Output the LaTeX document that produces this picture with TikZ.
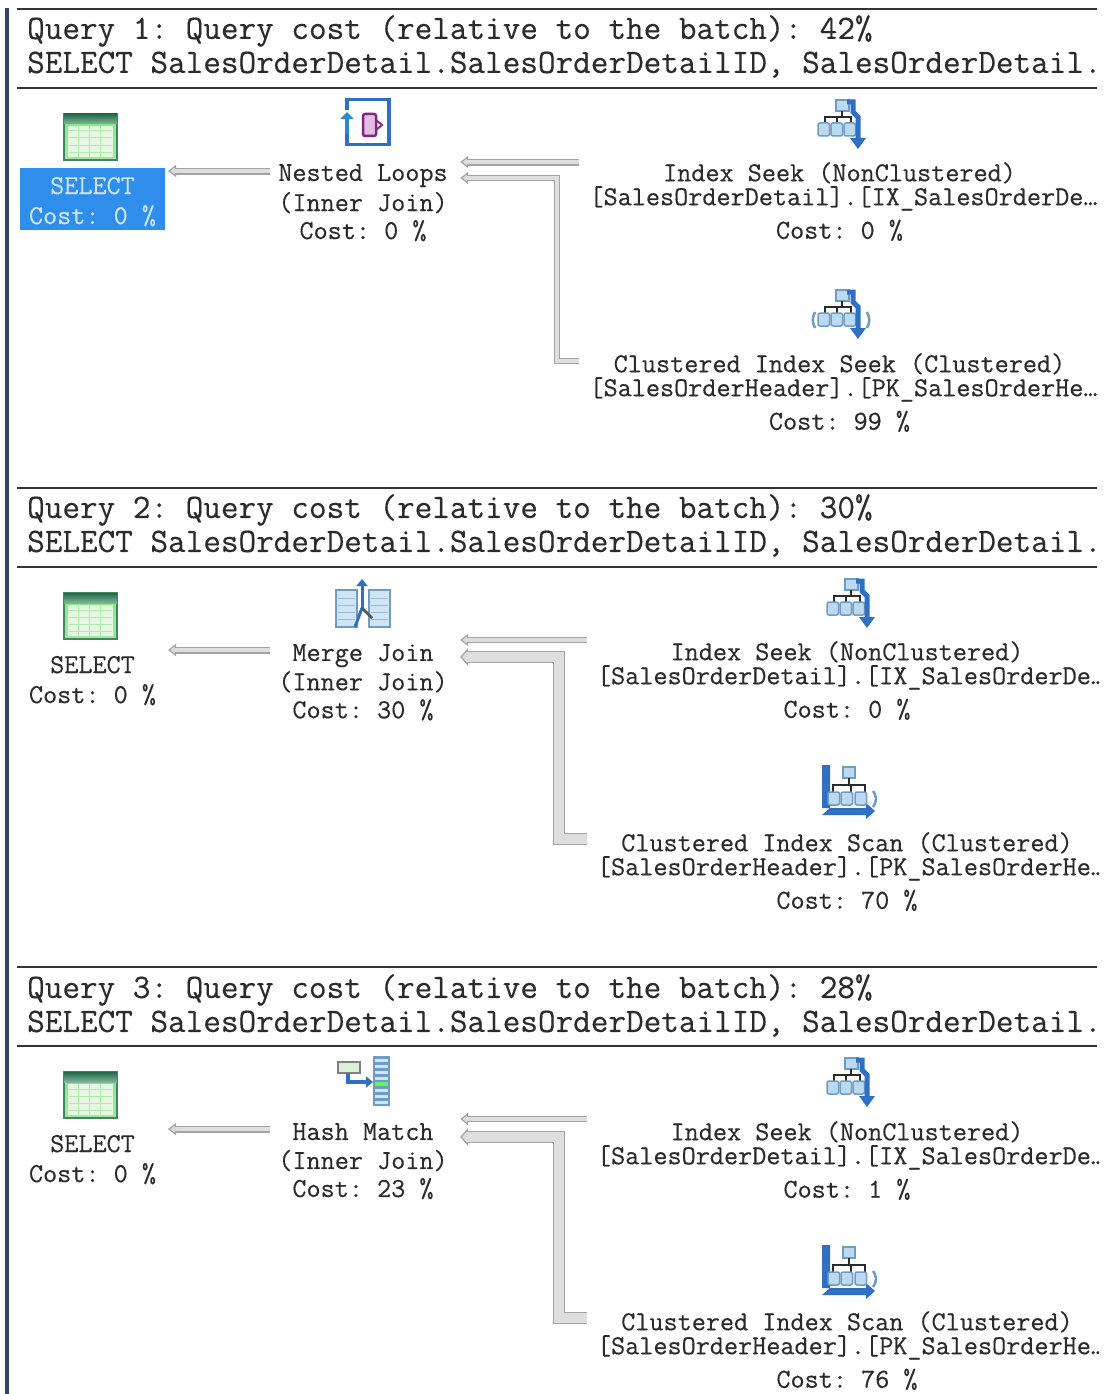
\documentclass[tikz,border=0pt]{standalone}
\usepackage{fontspec}
\newfontfamily\monof[FakeBold=0.35]{Latin Modern Mono}
\usetikzlibrary{arrows.meta}
\definecolor{ink}{HTML}{2B2B2B}
\definecolor{rulec}{HTML}{333333}
\definecolor{barc}{HTML}{34426F}
\definecolor{hilite}{HTML}{2F8DEB}
\definecolor{hitext}{HTML}{CDE6FA}
\definecolor{edgec}{HTML}{A3A3A3}
\definecolor{fillc}{HTML}{DEDEDE}
\definecolor{bluei}{HTML}{2F6FC4}
\definecolor{lightb}{HTML}{BBD9EF}
\definecolor{edgeb}{HTML}{6F9CC4}
\definecolor{greenl}{HTML}{C3E8BC}
\definecolor{greend}{HTML}{2C8459}
\newcommand{\nudge}{\hspace*{8pt}}
\newcommand{\cyl}[2]{\draw[edgeb,fill=lightb,line width=1.5pt,rounded corners=2pt] (#1,#2) rectangle ++(11.5,13);}
\tikzset{
  x=1pt,y=-1pt,
  rulel/.style={draw=rulec,line width=2pt},
  headtext/.style={anchor=north west,inner sep=0pt,align=left,text=ink,font=\monof\frenchspacing\fontsize{34.2}{34}\selectfont},
  seltext/.style={anchor=north,inner ysep=0pt,inner xsep=0pt,minimum width=145pt,outer sep=3pt,align=center,text=ink,font=\monof\frenchspacing\fontsize{27.4}{30}\selectfont},
  jointext/.style={anchor=north,inner ysep=0pt,inner xsep=0pt,minimum width=186pt,align=center,text=ink,font=\monof\frenchspacing\fontsize{27.4}{24}\selectfont},
  seektext/.style={anchor=north,inner ysep=0pt,inner xsep=10pt,align=center,text=ink,font=\monof\frenchspacing\fontsize{27.4}{24}\selectfont},
  pipe/.style n args={3}{line width=#1,draw=edgec,shorten >=#3,
    -{Triangle[length=8pt,width=#2,fill=fillc,line width'=1.2pt]},
    postaction={draw=fillc,line width=#1-2.4pt,arrows=-,shorten >=#3+7pt}},
  pics/tableicon/.style={code={
    \draw[draw=greend!70!gray,top color=greenl!60!green,bottom color=greenl!80!green,line width=1.5pt] (0,0) rectangle (53,46);
    \fill[greenl!40!white] (4,12) rectangle (49,43);
    \fill[top color=greend!80!black,bottom color=greend!60!white,draw=none] (0,0) rectangle (53,10);
    \foreach \yy in {17,24,31,38} \draw[greenl!90!green,line width=1pt] (5,\yy) -- (48,\yy);
    \foreach \xx in {14,25,36} \draw[greenl!90!green,line width=1pt] (\xx,12) -- (\xx,44);
  }},
  pics/loopicon/.style={code={
    \draw[bluei,line width=3.5pt] (6,12) -- (6,1.5) -- (48,1.5) -- (48,46.5) -- (6,46.5) -- (6,36);
    \draw[bluei!80!cyan,line width=3.5pt,-{Triangle[length=7pt,width=13pt]}] (6,36) -- (6,14);
    \draw[violet!70!gray,fill=violet!25,line width=2.5pt,rounded corners=2pt] (22,16) rectangle (35,38);
    \draw[violet!60!gray,line width=2pt] (35,22) -- (41,27) -- (35,32);
  }},
  pics/seekicon/.style={code={
    \draw[edgeb,fill=lightb,line width=1.5pt] (19,2) rectangle (32,13);
    \draw[ink,line width=1.2pt] (25,13) -- (25,19) (8,25) -- (8,19) -- (34,19) -- (34,25) (20,19) -- (20,25);
    \cyl{1}{25}\cyl{14}{25}\cyl{27}{25}
    \draw[bluei,line width=5pt] (30,4) -- (36,4) -- (36,14) -- (41,19) -- (41,43);
    \fill[bluei] (33,40) -- (49,40) -- (41,51) -- cycle;
  }},
  pics/cseekicon/.style={code={
    \pic at (5,0) {seekicon};
    \draw[edgeb,line width=2.5pt] (3,24) .. controls (0,30) and (0,34) .. (3,40);
    \draw[edgeb,line width=2.5pt] (55,24) .. controls (58,30) and (58,34) .. (55,40);
  }},
  pics/scanicon/.style={code={
    \fill[bluei] (2,0) rectangle (10,43) -- (2,50) -- (46,50) -- (46,54) -- (55,46) -- (46,38) -- (46,43) -- (2,43) -- cycle;
    \draw[edgeb,fill=lightb,line width=1.5pt] (23,2) rectangle (35,13);
    \draw[ink,line width=1.2pt] (29,13) -- (29,20) (13,27) -- (13,20) -- (45,20) -- (45,27) (31,20) -- (31,27);
    \cyl{8}{27}\cyl{21}{27}\cyl{35}{27}
    \draw[edgeb,line width=2.5pt] (53,26) .. controls (57,32) and (57,36) .. (53,42);
  }},
  pics/mergeicon/.style={code={
    \foreach \xx in {1,34}{
      \draw[edgeb,fill=lightb!70!white,line width=1.5pt] (\xx,12) rectangle ++(21,37);
      \foreach \yy in {20,27,34,41} \draw[edgeb!70!white,line width=1pt] (\xx+2,\yy) -- (\xx+19,\yy);
    }
    \draw[bluei,line width=3pt,-{Triangle[length=7pt,width=11pt]}] (27,30) -- (27,1);
    \draw[bluei,line width=3pt] (27,30) -- (20,49);
    \draw[ink!80,line width=2.5pt] (27,30) -- (37,40);
  }},
  pics/hashicon/.style={code={
    \draw[gray,fill=greenl!60!white,line width=2pt] (1,7) rectangle (23,18);
    \draw[bluei,line width=4.5pt,-{Triangle[length=7pt,width=11pt]}] (11,18) -- (11,27) -- (36,27);
    \fill[edgeb] (36,1) rectangle (53,51);
    \foreach \yy in {4,10,16,22,34,40,46} \fill[lightb!70!white] (38,\yy) rectangle (51,\yy+3);
    \fill[greenl!50!green] (38,27) rectangle (51,31);
  }},
}
\begin{document}
\begin{tikzpicture}
\useasboundingbox (0,0) rectangle (1112,1394);
\fill[white] (0,0) rectangle (1112,1394);
\clip (0,0) rectangle (1099,1394);
\fill[barc] (5,8) rectangle (9,1394);
% rules
\foreach \yy in {9,88,488,567,967,1046} \draw[rulel] (17,\yy) -- (1097,\yy);
% headers
\node[headtext] (h1) at (27,15) {Query 1: Query cost (relative to the batch): 42\%\\SELECT SalesOrderDetail.SalesOrderDetailID, SalesOrderDetail.};
\node[headtext] (h2) at (27,494) {Query 2: Query cost (relative to the batch): 30\%\\SELECT SalesOrderDetail.SalesOrderDetailID, SalesOrderDetail.};
\node[headtext] (h3) at (27,974) {Query 3: Query cost (relative to the batch): 28\%\\SELECT SalesOrderDetail.SalesOrderDetailID, SalesOrderDetail.};
% icons
\pic at (64,114) {tableicon};
\pic at (64,593) {tableicon};
\pic at (64,1072) {tableicon};
\pic at (341,98) {loopicon};
\pic at (335,578) {mergeicon};
\pic at (337,1055) {hashicon};
\pic at (817,98) {seekicon};
\pic at (812,288) {cseekicon};
\pic at (826,577) {seekicon};
\pic at (820,765) {scanicon};
\pic at (826,1056) {seekicon};
\pic at (820,1245) {scanicon};
% SELECT nodes
\fill[hilite] (20,168) rectangle (165,230);
\node[seltext,text=hitext] (s1) at (92.5,174) {SELECT\\Cost: 0 \%};
\node[seltext] (s2) at (92.5,653) {SELECT\\Cost: 0 \%};
\node[seltext] (s3) at (92.5,1132) {SELECT\\Cost: 0 \%};
% join nodes
\node[jointext] (j1) at (363,164) {Nested Loops\\[4pt](Inner Join)\\[4pt]Cost: 0 \%};
\node[jointext] (j2) at (363,644) {Merge Join\\[3pt](Inner Join)\\[4pt]Cost: 30 \%};
\node[jointext] (j3) at (363,1123) {Hash Match\\[5pt](Inner Join)\\[4pt]Cost: 23 \%};
% access nodes
\node[seektext] (a1) at (843.5,162) {Index Seek (NonClustered)\nudge\\{[SalesOrderDetail].[IX\_SalesOrderDe…}\\[8pt]Cost: 0 \%\nudge};
\node[seektext] (b1) at (843.5,353) {Clustered Index Seek (Clustered)\nudge\\{[SalesOrderHeader].[PK\_SalesOrderHe…}\\[8pt]Cost: 99 \%\nudge};
\node[seektext] (a2) at (851,641) {Index Seek (NonClustered)\nudge\\{[SalesOrderDetail].[IX\_SalesOrderDe…}\\[8pt]Cost: 0 \%\nudge};
\node[seektext] (b2) at (851,832) {Clustered Index Scan (Clustered)\nudge\\{[SalesOrderHeader].[PK\_SalesOrderHe…}\\[8pt]Cost: 70 \%\nudge};
\node[seektext] (a3) at (851,1121) {Index Seek (NonClustered)\nudge\\{[SalesOrderDetail].[IX\_SalesOrderDe…}\\[8pt]Cost: 1 \%\nudge};
\node[seektext] (b3) at (851,1311) {Clustered Index Scan (Clustered)\nudge\\{[SalesOrderHeader].[PK\_SalesOrderHe…}\\[8pt]Cost: 76 \%\nudge};
% connectors
\draw[pipe={7pt}{12pt}{0pt}] (j1.west |- 0,171) -- (s1.east |- 0,171);
\draw[pipe={7pt}{12pt}{0pt}] (j2.west |- 0,650) -- (s2.east |- 0,650);
\draw[pipe={7pt}{12pt}{0pt}] (j3.west |- 0,1129) -- (s3.east |- 0,1129);
\draw[pipe={7pt}{12pt}{4pt}] (a1.west |- 0,162) -- (j1.east |- 0,162);
\draw[pipe={6pt}{12pt}{4pt},line join=miter] (b1.west |- 0,361) -- (557,361) -- (557,178) -- (j1.east |- 0,178);
\draw[pipe={6pt}{12pt}{4pt}] (a2.west |- 0,640) -- (j2.east |- 0,640);
\draw[pipe={12pt}{18pt}{4pt},line join=miter] (b2.west |- 0,839) -- (559,839) -- (559,657) -- (j2.east |- 0,657);
\draw[pipe={6pt}{12pt}{4pt}] (a3.west |- 0,1119) -- (j3.east |- 0,1119);
\draw[pipe={12pt}{18pt}{4pt},line join=miter] (b3.west |- 0,1318) -- (559,1318) -- (559,1137) -- (j3.east |- 0,1137);
\end{tikzpicture}
\end{document}
